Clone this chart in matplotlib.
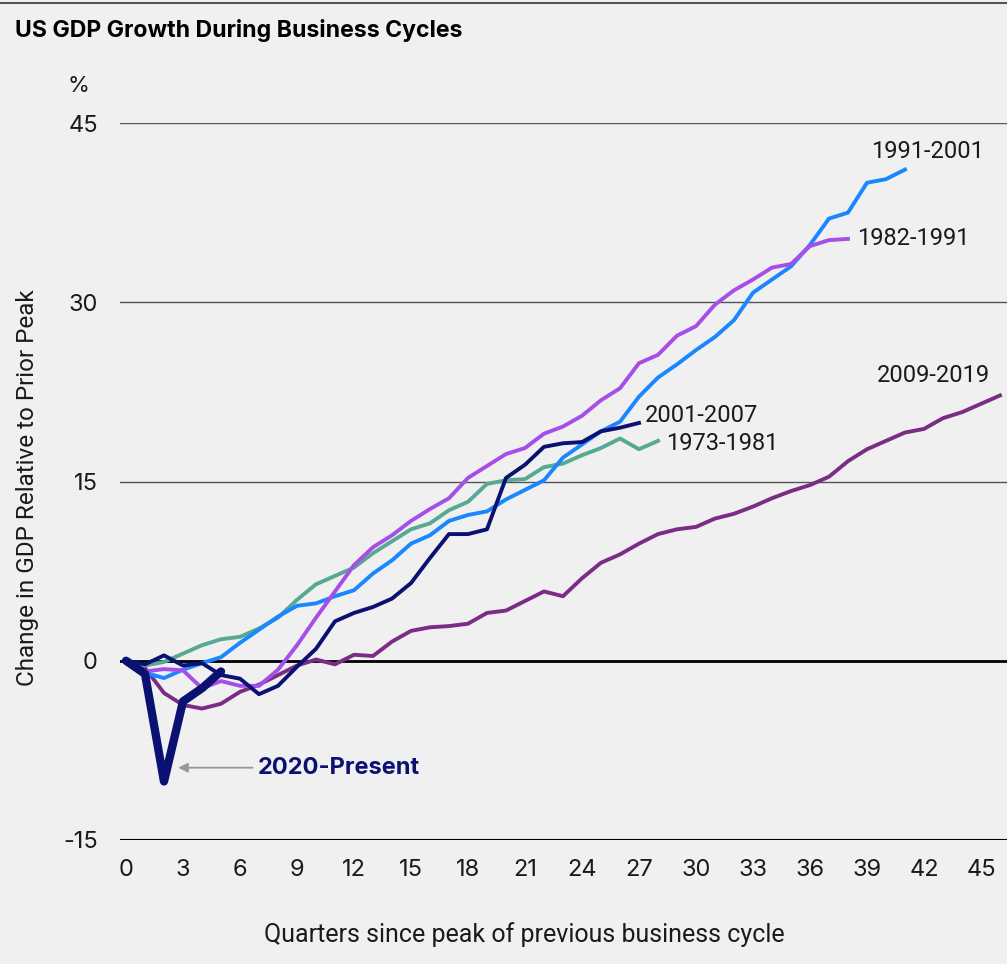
import numpy as np
import matplotlib
matplotlib.use("Agg")
import matplotlib.pyplot as plt
from matplotlib.lines import Line2D

plt.rcParams["axes.unicode_minus"] = False

# GDP change relative to prior peak (%), by quarter since peak
cycle_73 = [0, -0.4, -0.1, 0.6, 1.3, 1.8, 2.0, 2.7, 3.6, 5.1, 6.4, 7.1, 7.8, 9.0, 10.0,
            11.0, 11.5, 12.6, 13.3, 14.8, 15.1, 15.2, 16.2, 16.5, 17.2, 17.8, 18.6, 17.7, 18.4]
cycle_82 = [0, -0.9, -0.7, -0.8, -2.3, -1.7, -2.1, -2.1, -0.75, 1.3, 3.6, 5.8, 8.0, 9.5, 10.5,
            11.7, 12.7, 13.6, 15.3, 16.3, 17.3, 17.8, 19.0, 19.6, 20.5, 21.8, 22.8, 24.9, 25.6,
            27.2, 28.0, 29.8, 31.0, 31.9, 32.9, 33.2, 34.7, 35.2, 35.3]
cycle_91 = [0, -1.0, -1.45, -0.75, -0.2, 0.3, 1.5, 2.6, 3.7, 4.6, 4.8, 5.4, 5.9, 7.3, 8.4,
            9.8, 10.5, 11.7, 12.2, 12.5, 13.5, 14.3, 15.1, 17.0, 18.1, 19.2, 20.0, 22.1, 23.7,
            24.8, 26.0, 27.1, 28.5, 30.8, 31.9, 33.0, 34.8, 37.0, 37.5, 40.0, 40.3, 41.1]
cycle_01 = [0, -0.3, 0.45, -0.4, -0.2, -1.2, -1.5, -2.8, -2.1, -0.5, 1.0, 3.3, 4.0, 4.5, 5.2,
            6.5, 8.6, 10.6, 10.6, 11.0, 15.3, 16.4, 17.9, 18.2, 18.3, 19.2, 19.5, 19.9]
cycle_09 = [0, -0.6, -2.7, -3.7, -4.0, -3.6, -2.6, -2.0, -1.2, -0.4, 0.1, -0.3, 0.5, 0.4, 1.6,
            2.5, 2.8, 2.9, 3.1, 4.0, 4.2, 5.0, 5.8, 5.4, 6.9, 8.2, 8.9, 9.8, 10.6, 11.0, 11.2,
            11.9, 12.3, 12.9, 13.6, 14.2, 14.7, 15.4, 16.7, 17.7, 18.4, 19.1, 19.4, 20.3, 20.8,
            21.5, 22.2]
cycle_20 = [0, -1.1, -10.1, -3.4, -2.3, -0.9]

y_ticks = [-15, 0, 15, 30, 45]
x_ticks = list(range(0, 46, 3))

BG = "#f0f0f0"
TXT = "#1a1a1a"
NAVY = "#0b1172"

fig = plt.figure(figsize=(10.07, 9.64), dpi=100, facecolor=BG)
ax = fig.add_axes([120 / 1007, 124 / 964, 887 / 1007, 717 / 964])
ax.set_facecolor(BG)

for y in [15, 30, 45]:
    ax.axhline(y, color="#555555", lw=1.0, zorder=1)
ax.axhline(0, color="black", lw=2.0, zorder=1)
ax.axhline(-15, color="black", lw=1.5, zorder=1)

ax.plot(range(len(cycle_09)), cycle_09, color="#7b2d86", lw=2.8, zorder=3)
ax.plot(range(len(cycle_73)), cycle_73, color="#58a994", lw=2.8, zorder=3)
ax.plot(range(len(cycle_91)), cycle_91, color="#1a87ff", lw=2.8, zorder=3)
ax.plot(range(len(cycle_82)), cycle_82, color="#a64ee8", lw=2.8, zorder=4)
ax.plot(range(len(cycle_01)), cycle_01, color=NAVY, lw=2.8, zorder=5)
ax.plot(range(len(cycle_20)), cycle_20, color=NAVY, lw=6, zorder=6,
        solid_capstyle="round", solid_joinstyle="round")

ax.set_xlim(-0.316, 46.37)
ax.set_ylim(-15, 45)
for s in ax.spines.values():
    s.set_visible(False)
ax.tick_params(length=0, labelsize=17, colors=TXT)
ax.tick_params(axis="y", pad=16)
ax.tick_params(axis="x", pad=14)
ax.set_yticks(y_ticks)
ax.set_xticks(x_ticks)
for lab in ax.get_xticklabels() + ax.get_yticklabels():
    lab.set_family("Inter")

lab_kw = dict(fontsize=17, color=TXT, family="Roboto", va="center", ha="left")
ax.text(39.2, 42.6, "1991-2001", **lab_kw)
ax.text(38.5, 35.3, "1982-1991", **lab_kw)
ax.text(39.5, 23.85, "2009-2019", **lab_kw)
ax.text(27.3, 20.5, "2001-2007", **lab_kw)
ax.text(28.4, 18.2, "1973-1981", **lab_kw)

ax.annotate("", xy=(2.6, -8.95), xytext=(6.8, -8.95),
            arrowprops=dict(arrowstyle="-|>", color="#999999", lw=1.3, mutation_scale=14))
ax.text(6.95, -8.95, "2020-Present", fontsize=17, fontweight="bold", color=NAVY,
        family="Inter", va="center", ha="left")

fig.text(15 / 1007, 1 - 30 / 964, "US GDP Growth During Business Cycles", fontsize=16.6,
         fontweight="bold", family="Inter", color="black", va="center", ha="left")
fig.text(78 / 1007, 1 - 86 / 964, "%", fontsize=16, family="Inter", color=TXT,
         va="center", ha="center")
fig.text(28 / 1007, 1 - 488 / 964, "Change in GDP Relative to Prior Peak", fontsize=17.5,
         family="Roboto", color=TXT, rotation=90, va="center", ha="center")
fig.text(524 / 1007, 1 - 935 / 964, "Quarters since peak of previous business cycle",
         fontsize=18, family="Roboto", color=TXT, va="center", ha="center")

fig.add_artist(Line2D([0, 1], [1 - 3 / 964, 1 - 3 / 964], color="#555555", lw=1.5,
                      transform=fig.transFigure))

fig.savefig("out.png", dpi=100, facecolor=BG)
